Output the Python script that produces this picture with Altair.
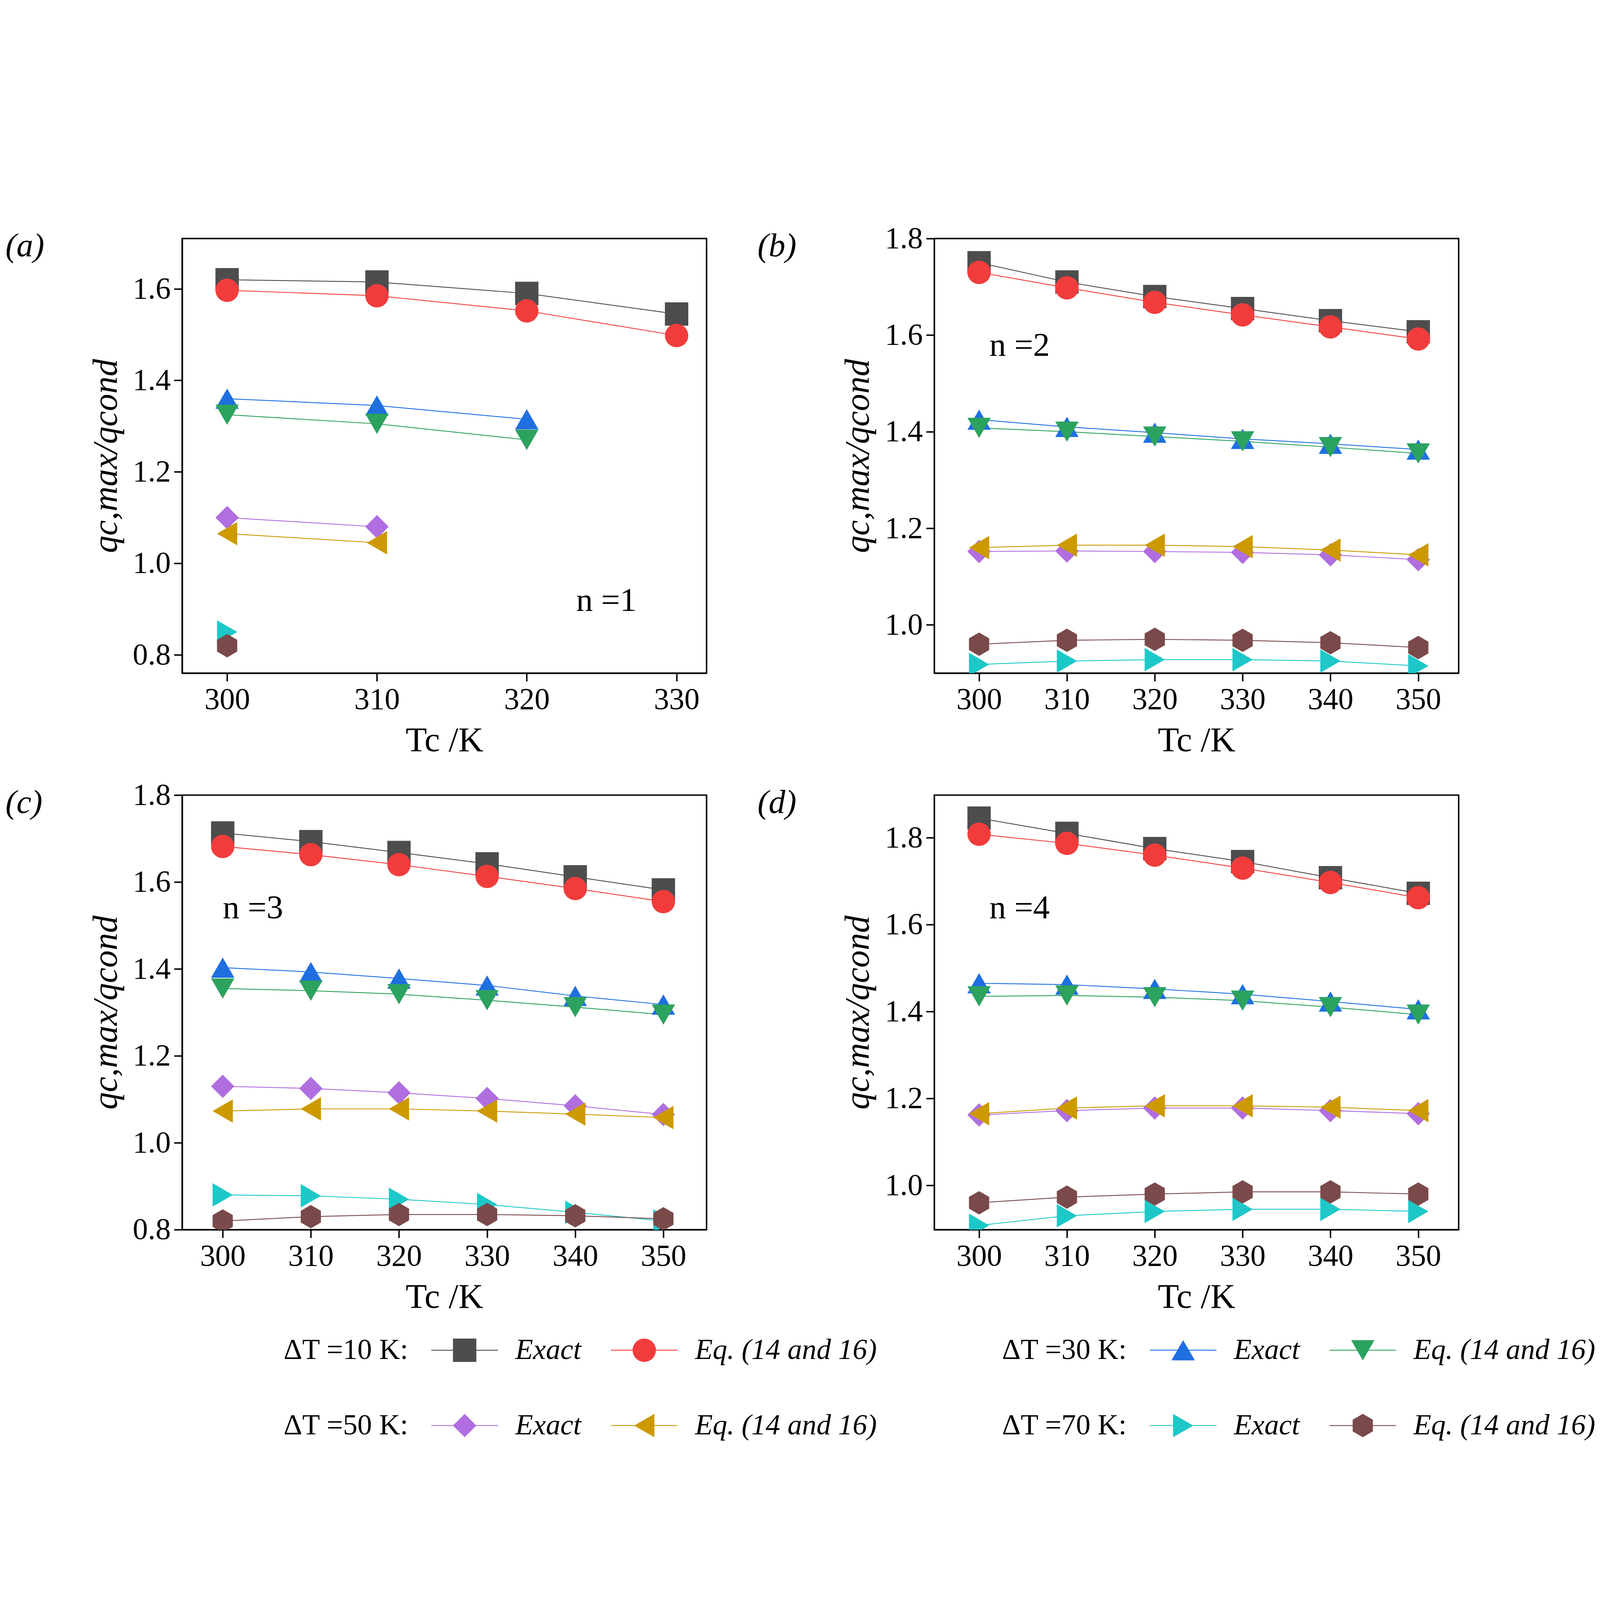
import altair as alt
import pandas as pd

T = [300, 310, 320, 330, 340, 350]
series = ["10e", "10q", "30e", "30q", "50e", "50q", "70e", "70q"]
colors = ["#4d4d4d", "#f23c3c", "#1f6fe0", "#2ca25f", "#b06ee0", "#cc9900", "#1ec8c8", "#7a4a4a"]
hexagon = "M0,-1L0.866,-0.5L0.866,0.5L0,1L-0.866,0.5L-0.866,-0.5Z"
shapes = ["square", "circle", "triangle-up", "triangle-down", "diamond", "triangle-left", "triangle-right", hexagon]

n1 = {
    "10e": [1.62, 1.615, 1.59, 1.545], "10q": [1.597, 1.585, 1.552, 1.498],
    "30e": [1.36, 1.345, 1.315], "30q": [1.325, 1.305, 1.27],
    "50e": [1.10, 1.08], "50q": [1.065, 1.045],
    "70e": [0.85], "70q": [0.82],
}
n2 = {
    "10e": [1.75, 1.71, 1.68, 1.655, 1.63, 1.607], "10q": [1.73, 1.698, 1.668, 1.642, 1.617, 1.592],
    "30e": [1.425, 1.41, 1.398, 1.385, 1.375, 1.363], "30q": [1.408, 1.4, 1.39, 1.38, 1.368, 1.355],
    "50e": [1.152, 1.153, 1.152, 1.15, 1.145, 1.135], "50q": [1.16, 1.165, 1.165, 1.162, 1.155, 1.145],
    "70e": [0.918, 0.925, 0.928, 0.928, 0.925, 0.915], "70q": [0.96, 0.968, 0.97, 0.968, 0.963, 0.953],
}
n3 = {
    "10e": [1.713, 1.693, 1.668, 1.642, 1.612, 1.582], "10q": [1.682, 1.663, 1.64, 1.613, 1.585, 1.555],
    "30e": [1.403, 1.393, 1.378, 1.362, 1.338, 1.318], "30q": [1.355, 1.35, 1.342, 1.328, 1.312, 1.295],
    "50e": [1.13, 1.125, 1.115, 1.102, 1.085, 1.065], "50q": [1.073, 1.078, 1.078, 1.073, 1.066, 1.058],
    "70e": [0.88, 0.878, 0.87, 0.858, 0.84, 0.82], "70q": [0.82, 0.83, 0.835, 0.835, 0.832, 0.825],
}
n4 = {
    "10e": [1.845, 1.81, 1.775, 1.745, 1.708, 1.672], "10q": [1.808, 1.787, 1.76, 1.73, 1.697, 1.662],
    "30e": [1.465, 1.462, 1.452, 1.44, 1.423, 1.405], "30q": [1.435, 1.437, 1.433, 1.425, 1.41, 1.393],
    "50e": [1.162, 1.172, 1.178, 1.178, 1.172, 1.165], "50q": [1.165, 1.178, 1.183, 1.183, 1.18, 1.172],
    "70e": [0.908, 0.93, 0.94, 0.945, 0.945, 0.94], "70q": [0.96, 0.973, 0.98, 0.985, 0.985, 0.98],
}

FONT = "Liberation Serif"
W, H = 1810, 1500
color_scale = alt.Scale(domain=series, range=colors)
shape_scale = alt.Scale(domain=series, range=shapes)


def panel(d, label, ntext, xdom, ydom, xvals, ntext_pos):
    rows = [{"s": s, "T": T[i], "v": v} for s in series for i, v in enumerate(d[s])]
    df = pd.DataFrame(rows)
    x = alt.X("T:Q", scale=alt.Scale(domain=xdom, nice=False, zero=False),
              axis=alt.Axis(values=xvals, title="Tc /K", format="d"))
    y = alt.Y("v:Q", scale=alt.Scale(domain=ydom, nice=False, zero=False),
              axis=alt.Axis(values=[0.8, 1.0, 1.2, 1.4, 1.6, 1.8], format=".1f",
                            title="qc,max/qcond", titleFontStyle="italic"))
    base = alt.Chart(df).encode(x=x, y=y,
                                color=alt.Color("s:N", scale=color_scale, legend=None),
                                detail="s:N")
    lines = base.mark_line(strokeWidth=3, clip=True)
    pts = base.mark_point(filled=True, size=6500, opacity=1, clip=True).encode(
        shape=alt.Shape("s:N", scale=shape_scale, legend=None))
    lab = alt.Chart(pd.DataFrame({"t": [label]})).mark_text(
        font=FONT, fontSize=115, fontStyle="italic", align="left", baseline="top").encode(
        text="t:N", x=alt.value(-610), y=alt.value(-30))
    nt = alt.Chart(pd.DataFrame({"t": [ntext]})).mark_text(
        font=FONT, fontSize=115, align="left", baseline="middle").encode(
        text="t:N", x=alt.value(ntext_pos[0]), y=alt.value(ntext_pos[1]))
    return alt.layer(lines, pts, lab, nt).properties(width=W, height=H)


pa = panel(n1, "(a)", "n =1", [297, 332], [0.76, 1.71], [300, 310, 320, 330], (1360, 1250))
pb = panel(n2, "(b)", "n =2", [294.9, 354.6], [0.9, 1.8], T, (190, 370))
pc = panel(n3, "(c)", "n =3", [295.4, 354.9], [0.8, 1.8], T, (140, 390))
pd_ = panel(n4, "(d)", "n =4", [294.9, 354.6], [0.898, 1.898], T, (190, 390))

# legend rows: group label, then Exact / Eq. entries
leg_groups = ["ΔT =10 K:", "ΔT =30 K:", "ΔT =50 K:", "ΔT =70 K:"]
leg_names = ["Exact", "Eq. (14 and 16)"]
lrows, lrows_t, lrows_i = [], [], []
for gi, g in enumerate(leg_groups):
    col, row = gi % 2, gi // 2
    x0 = 350 + col * 2480
    y0 = 80 + row * 260
    lrows_t.append({"t": g, "x": x0, "y": y0})
    for k in range(2):
        s = series[gi * 2 + k]
        xs = x0 + 510 + k * 620
        lrows.append({"s": s, "x": xs, "x2": xs + 230, "y": y0})
        lrows_i.append({"t": leg_names[k], "x": xs + 290, "y": y0})
lx = alt.Scale(domain=[0, 4800], nice=False)
ly = alt.Scale(domain=[0, 500], nice=False, reverse=True)
lb = alt.Chart(pd.DataFrame(lrows)).encode(color=alt.Color("s:N", scale=color_scale, legend=None))
lline = lb.mark_rule(strokeWidth=3).encode(
    x=alt.X("x:Q", scale=lx, axis=None), x2="x2:Q", y=alt.Y("y:Q", scale=ly, axis=None))
lpt = lb.transform_calculate(xm="(datum.x + datum.x2) / 2").mark_point(
    filled=True, size=6500, opacity=1).encode(
    x=alt.X("xm:Q", scale=lx, axis=None), y=alt.Y("y:Q", scale=ly, axis=None),
    shape=alt.Shape("s:N", scale=shape_scale, legend=None))
ltxt = alt.Chart(pd.DataFrame(lrows_t)).mark_text(
    font=FONT, fontSize=100, align="left", baseline="middle").encode(
    x=alt.X("x:Q", scale=lx, axis=None), y=alt.Y("y:Q", scale=ly, axis=None), text="t:N")
litxt = alt.Chart(pd.DataFrame(lrows_i)).mark_text(
    font=FONT, fontSize=100, fontStyle="italic", align="left", baseline="middle").encode(
    x=alt.X("x:Q", scale=lx, axis=None), y=alt.Y("y:Q", scale=ly, axis=None), text="t:N")
legend = alt.layer(lline, lpt, ltxt, litxt).properties(width=4800, height=500, view=alt.ViewConfig(stroke=None))

grid = alt.vconcat(
    alt.hconcat(pa, pb, spacing=170),
    alt.hconcat(pc, pd_, spacing=170),
    spacing=70,
)
chart = alt.vconcat(grid, legend, spacing=40).configure_view(
    stroke="black", strokeWidth=5
).configure_axis(
    labelFont=FONT, titleFont=FONT, labelFontSize=105, titleFontSize=120,
    titleFontWeight="normal", grid=False, domainColor="black", domainWidth=5,
    tickColor="black", tickWidth=5, tickSize=28, labelColor="black", titleColor="black",
    labelPadding=12, titlePadding=30,
)

chart.save("out.html", embed_options={"renderer": "svg", "actions": False})
